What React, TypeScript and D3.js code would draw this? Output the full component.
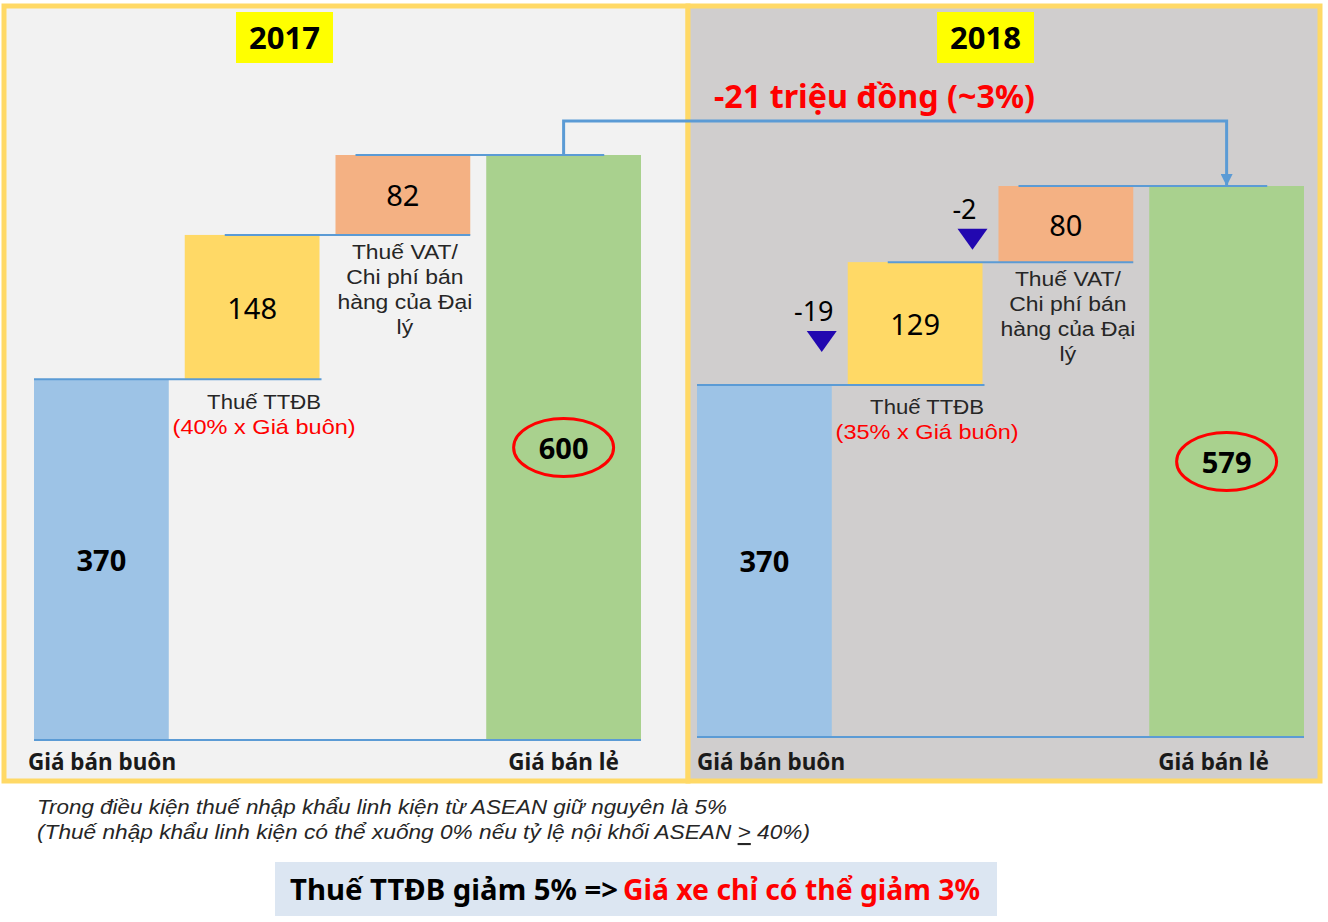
import React from "react";
import * as d3 from "d3";

// ---------- data ----------
const categories = ["Giá bán buôn", "Thuế TTĐB", "Thuế VAT/Chi phí bán hàng của Đại lý", "Giá bán lẻ"];
const years = ["2017", "2018"];
const values2017 = [370, 148, 82, 600];
const values2018 = [370, 129, 80, 579];
const changes2018 = [0, -19, -2, 0];
const barKinds = ["total", "delta", "delta", "total"];
const ttdbRates = ["(40% x Giá buôn)", "(35% x Giá buôn)"];
const vatLabelLines = ["Thuế VAT/", "Chi phí bán", "hàng của Đại", "lý"];
const ttdbLabel = "Thuế TTĐB";
const retailDiffLabel = "-21 triệu đồng (~3%)";
const footnote1 = "Trong điều kiện thuế nhập khẩu linh kiện từ ASEAN giữ nguyên là 5%";
const footnote2a = "(Thuế nhập khẩu linh kiện có thể xuống 0% nếu tỷ lệ nội khối ASEAN ";
const footnote2b = ">";
const footnote2c = " 40%)";
const conclusionBlack = "Thuế TTĐB giảm 5% =>";
const conclusionRed = "Giá xe chỉ có thể giảm 3%";

// ---------- styles ----------
const FONT = "'Noto Sans', 'Open Sans', 'DejaVu Sans', sans-serif";
const SMALL_FONT = "'Liberation Sans', Arial, sans-serif";
const barColors = ["#9dc3e6", "#ffd966", "#f4b183", "#a9d18e"];
const lineBlue = "#5b9bd5";
const red = "#ff0000";
const triColor = "#2208b0";

const panelLayouts = [
  { x: 4, w: 684, bg: "#f2f2f2", left: 34, baseline: 740, top: 155, yearCx: 284.5 },
  { x: 688, w: 632, bg: "#d0cece", left: 697, baseline: 737, top: 186, yearCx: 985.5 },
];

function computePanel(p: number) {
  const L = panelLayouts[p];
  const values = p === 0 ? values2017 : values2018;
  const x = d3.scaleBand<string>().domain(categories).range([L.left, L.left + 587]).paddingInner(0.106).paddingOuter(0);
  const y = d3.scaleLinear().domain([0, values[3]]).range([L.baseline, L.top]);
  let cum = 0;
  const bars = values.map((v, i) => {
    let start = 0, end = v;
    if (barKinds[i] === "delta") { start = cum; end = cum + v; }
    cum = end;
    const bx = x(categories[i]) as number;
    const bw = x.bandwidth() + (i === 3 ? 20 : 0);
    return { i, v, start, end, bx, bw, y0: y(start), y1: y(end) };
  });
  return { L, values, x, y, bars };
}

export default function App() {
  const panels = [0, 1].map(computePanel);
  const g0 = panels[0].bars[3];
  const g1 = panels[1].bars[3];
  const arrowTopY = 121;
  return (
    <svg width={1328} height={922} style={{ position: "absolute", left: 0, top: 0, background: "#ffffff" }} fontFamily={FONT}>
      <defs>
        <marker id="arr" viewBox="0 0 10 10" refX="10" refY="5" markerWidth="4" markerHeight="4" orient="auto">
          <path d="M0,0 L10,5 L0,10 z" fill={lineBlue} />
        </marker>
      </defs>
      {panels.map(({ L, x, y, bars }, p) => {
        const bw = x.bandwidth();
        const connOff = [0, 40, 20];
        const connEnd = [bw + 2, bw, 118];
        const vatCx = bars[2].bx + bw / 2 + 2;
        return (
          <g key={p}>
            <rect x={L.x} y={6} width={L.w} height={775} fill={L.bg} stroke="#ffd966" strokeWidth={5} />
            {/* year box */}
            <rect x={L.yearCx - 48.5} y={12} width={97} height={51} fill="#ffff00" />
            <text x={L.yearCx} y={37} textAnchor="middle" dominantBaseline="central" fontSize={31} fontWeight="bold" fill="#000">{years[p]}</text>
            {/* bars */}
            {bars.map((b) => (
              <rect key={b.i} x={b.bx} y={b.y1} width={b.bw} height={b.y0 - b.y1} fill={barColors[b.i]} />
            ))}
            {/* baseline */}
            <line x1={bars[0].bx} x2={bars[3].bx + bars[3].bw} y1={L.baseline} y2={L.baseline} stroke={lineBlue} strokeWidth={2} />
            {/* connectors */}
            {[0, 1, 2].map((i) => (
              <line key={i} x1={bars[i].bx + connOff[i]} x2={bars[i + 1].bx + connEnd[i]} y1={bars[i].y1} y2={bars[i].y1} stroke={lineBlue} strokeWidth={2} />
            ))}
            {/* value labels */}
            {bars.map((b) => (
              <text key={b.i} x={b.bx + b.bw / 2} y={(b.y0 + b.y1) / 2} textAnchor="middle" dominantBaseline="central"
                fontSize={29} fontWeight={barKinds[b.i] === "total" ? "bold" : "normal"} fill="#000">{b.v}</text>
            ))}
            <ellipse cx={bars[3].bx + bars[3].bw / 2} cy={(bars[3].y0 + bars[3].y1) / 2} rx={50} ry={29} fill="none" stroke={red} strokeWidth={3} />
            {/* TTDB label */}
            <text x={bars[1].bx + bw / 2 + 12} y={bars[0].y1 + 22} textAnchor="middle" dominantBaseline="central" fontFamily={SMALL_FONT} fontSize={21} fill="#262626" textLength={114} lengthAdjust="spacingAndGlyphs">{ttdbLabel}</text>
            <text x={bars[1].bx + bw / 2 + 12} y={bars[0].y1 + 47} textAnchor="middle" dominantBaseline="central" fontFamily={SMALL_FONT} fontSize={21} fill={red} textLength={183} lengthAdjust="spacingAndGlyphs">{ttdbRates[p]}</text>
            {/* VAT label */}
            <g transform={`translate(${vatCx},0) scale(1.09,1) translate(${-vatCx},0)`}>
              {vatLabelLines.map((t, k) => (
                <text key={k} x={vatCx} y={bars[1].y1 + 17 + k * 24.8} textAnchor="middle" dominantBaseline="central" fontFamily={SMALL_FONT} fontSize={21} fill="#262626">{t}</text>
              ))}
            </g>
            {/* category labels */}
            <text x={bars[0].bx - (p === 0 ? 6 : 0)} y={761} dominantBaseline="central" fontSize={22.5} fontWeight="bold" fill="#1a1a1a">{categories[0]}</text>
            <text x={bars[3].bx + bars[3].bw / 2 - (p === 0 ? 0 : 13)} y={761} textAnchor="middle" dominantBaseline="central" fontSize={22.5} fontWeight="bold" fill="#1a1a1a">{categories[3]}</text>
            {/* change markers */}
            {p === 1 && bars.map((b) => {
              const c = changes2018[b.i];
              if (!c) return null;
              const cx = b.bx - 26;
              const ty = y(b.start + 0.44 * b.v);
              return (
                <g key={"c" + b.i}>
                  <path d={`M${cx - 15},${ty} L${cx + 15},${ty} L${cx},${ty + 21} Z`} fill={triColor} />
                  <text x={cx - 8} y={ty - 20} textAnchor="middle" dominantBaseline="central" fontSize={27} fill="#000">{c}</text>
                </g>
              );
            })}
          </g>
        );
      })}
      {/* cross-panel arrow */}
      <path d={`M${g0.bx + g0.bw / 2},${g0.y1} V${arrowTopY} H${g1.bx + g1.bw / 2} V${g1.y1}`} fill="none" stroke={lineBlue} strokeWidth={3} markerEnd="url(#arr)" />
      <text x={714} y={95} dominantBaseline="central" fontSize={32} fontWeight="bold" fill={red} textLength={321} lengthAdjust="spacingAndGlyphs">{retailDiffLabel}</text>
      {/* footnotes */}
      <text x={37} y={806} dominantBaseline="central" fontFamily={SMALL_FONT} fontSize={21} fontStyle="italic" fill="#262626" textLength={690} lengthAdjust="spacingAndGlyphs">{footnote1}</text>
      <text x={37} y={831} dominantBaseline="central" fontFamily={SMALL_FONT} fontSize={21} fontStyle="italic" fill="#262626" textLength={773} lengthAdjust="spacingAndGlyphs">
        {footnote2a}<tspan textDecoration="underline">{footnote2b}</tspan>{footnote2c}
      </text>
      {/* conclusion box */}
      <rect x={275} y={862} width={722} height={54} fill="#dce6f2" />
      <text x={290} y={889} dominantBaseline="central" fontSize={28} fontWeight="bold" fill="#000" textLength={328} lengthAdjust="spacingAndGlyphs">{conclusionBlack}</text>
      <text x={623} y={889} dominantBaseline="central" fontSize={28} fontWeight="bold" fill={red} textLength={357} lengthAdjust="spacingAndGlyphs">{conclusionRed}</text>
    </svg>
  );
}
